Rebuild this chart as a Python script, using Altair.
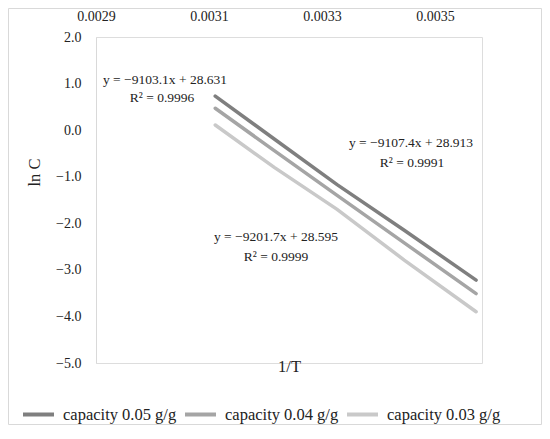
import altair as alt
import pandas as pd

# ---- data ----
inv_T = [0.003111, 0.0032154, 0.0033266, 0.0034454, 0.0035726]
series_names = ["capacity 0.05 g/g", "capacity 0.04 g/g", "capacity 0.03 g/g"]
lnC_005 = [0.73, -0.19, -1.17, -2.15, -3.22]
lnC_004 = [0.47, -0.44, -1.40, -2.42, -3.51]
lnC_003 = [0.11, -0.80, -1.70, -2.79, -3.90]
series_colors = ["#7f7f7f", "#a5a5a5", "#c9c9c9"]

x_ticks = [0.0029, 0.0031, 0.0033, 0.0035]
y_ticks = [-5, -4, -3, -2, -1, 0, 1, 2]

eq_labels = ["y = \u22129103.1x + 28.631", "R\u00b2 = 0.9996",
             "y = \u22129107.4x + 28.913", "R\u00b2 = 0.9991",
             "y = \u22129201.7x + 28.595", "R\u00b2 = 0.9999"]
eq_x = [0.0030221, 0.0030168, 0.0034574, 0.0034592, 0.0032185, 0.0032185]
eq_y = [1.076, 0.689, -0.281, -0.711, -2.301, -2.731]

FONT = "Liberation Serif"

rows = []
for name, vals in zip(series_names, [lnC_005, lnC_004, lnC_003]):
    for xv, yv in zip(inv_T, vals):
        rows.append({"series": name, "x": xv, "y": yv})
df = pd.DataFrame(rows)
ann = pd.DataFrame({"label": eq_labels, "x": eq_x, "y": eq_y})

xscale = alt.Scale(domain=[0.0029, 0.003583], nice=False, zero=False)
yscale = alt.Scale(domain=[-5, 2], nice=False, zero=False)

border = alt.Chart(pd.DataFrame({"a": [0]})).mark_rect(
    fill="white", fillOpacity=0, stroke="#d9d9d9", strokeWidth=1
).encode(x=alt.value(-87.5), x2=alt.value(445.5), y=alt.value(-28.5), y2=alt.value(387.5))

lines = alt.Chart(df).mark_line(strokeWidth=3.5, strokeCap="round").encode(
    x=alt.X("x:Q", scale=xscale, axis=alt.Axis(
        orient="top", values=x_ticks, format=".4f", grid=False, domain=False,
        ticks=False, tickSize=0, labelPadding=21, labelBaseline="middle",
        labelFlush=False, labelFont=FONT, labelFontSize=14, labelColor="#222",
        title="1/T", titleFont=FONT, titleFontSize=16.5, titleFontWeight="normal",
        titleColor="#222", titleY=329, titleX=193, titleBaseline="middle",
        titleAlign="center", zindex=1)),
    y=alt.Y("y:Q", scale=yscale, axis=alt.Axis(
        values=y_ticks, format=".1f", grid=False, domain=True,
        domainColor="#d9d9d9", domainWidth=1, ticks=False, tickSize=0,
        labelPadding=15, labelFont=FONT, labelFontSize=14, labelColor="#222",
        title="ln C", titleFont=FONT, titleFontSize=16.5, titleFontWeight="normal",
        titleColor="#222", titleX=-62, titleY=135, titleAngle=270,
        titleBaseline="middle", titleAlign="center", zindex=1)),
    color=alt.Color("series:N", scale=alt.Scale(domain=series_names, range=series_colors),
                    legend=alt.Legend(
                        title=None, orient="none", legendX=-75, legendY=360,
                        direction="horizontal", symbolType="stroke",
                        symbolSize=961, symbolStrokeWidth=4, labelOffset=7,
                        columnPadding=0, padding=0, labelFont=FONT,
                        labelFontSize=16.5, labelColor="#222")),
    detail="series:N",
)

texts = alt.Chart(ann).mark_text(
    font=FONT, fontSize=13.5, color="#222", align="center", baseline="middle"
).encode(x=alt.X("x:Q", scale=xscale), y=alt.Y("y:Q", scale=yscale), text="label:N")

chart = alt.layer(border, lines, texts).properties(
    width=386, height=326,
    autosize=alt.AutoSizeParams(type="none"),
    padding={"left": 88, "top": 29, "right": 60, "bottom": 62},
).configure_view(stroke=None).configure(background="white")

chart.save("out.html", embed_options={"renderer": "svg", "actions": False})
